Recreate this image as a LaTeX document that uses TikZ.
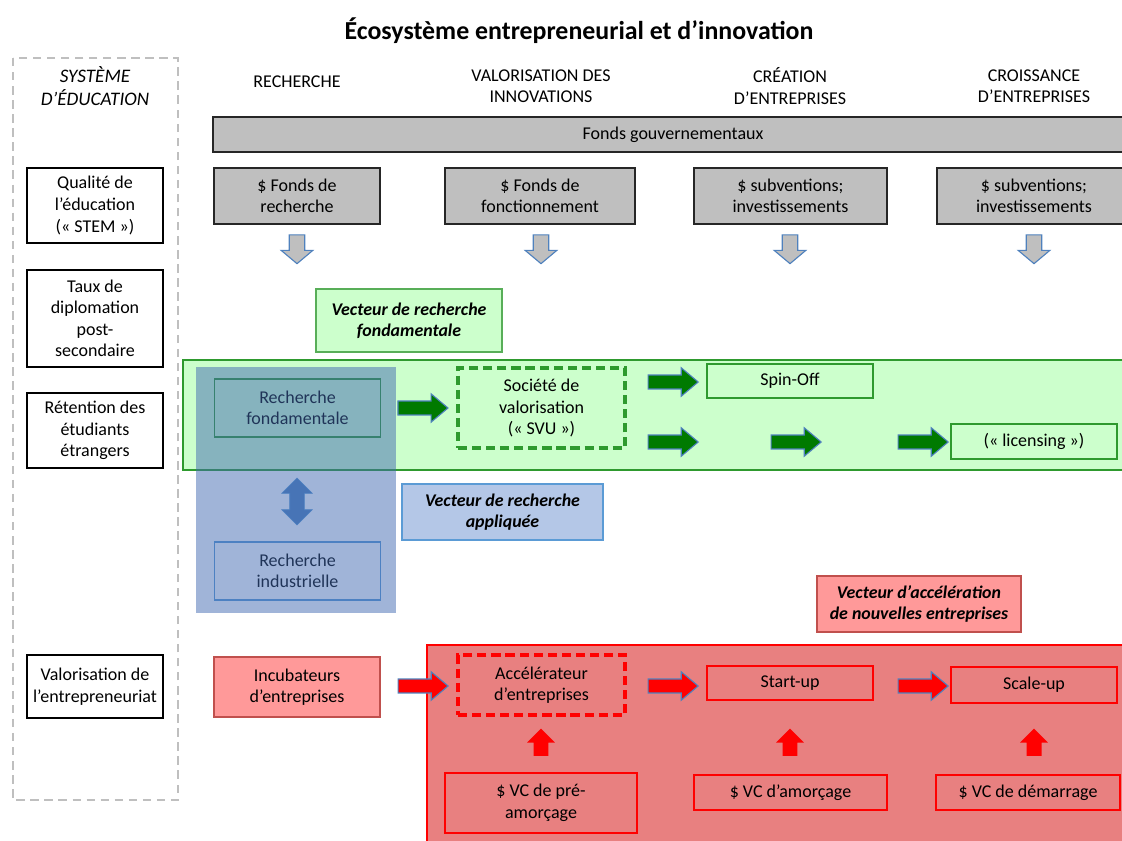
\documentclass[tikz,border=0pt]{standalone}
\usepackage{fontspec}
\setmainfont{Carlito}
\usepackage{tikz}
\usetikzlibrary{shapes.arrows}
\usetikzlibrary{calc}

\definecolor{fondgris}{HTML}{BFBFBF}
\definecolor{contourbleu}{HTML}{4F81BD}
\definecolor{vertclair}{HTML}{CCFFCC}
\definecolor{vertbord}{HTML}{2E9A2E}
\definecolor{vertfleche}{HTML}{007A00}
\definecolor{bleuvoile}{HTML}{4169B1}
\definecolor{bleuclair}{HTML}{B4C7E7}
\definecolor{bleubord}{HTML}{5B9BD5}
\definecolor{rosefond}{HTML}{FF9999}
\definecolor{rougebrique}{HTML}{C0504D}
\definecolor{rougebande}{HTML}{E88080}

\newcommand{\boxfont}{\fontsize{12.8}{15.3}\selectfont}

\begin{document}
\begin{tikzpicture}[x=0.025cm,y=-0.025cm,
  edu node/.style={draw=black, line width=1.1pt, fill=white, minimum width=3.4cm, align=center, font=\boxfont, inner sep=1pt},
  fund node/.style={draw=black!85, line width=1.1pt, fill=fondgris, align=center, font=\boxfont, minimum height=1.4cm},
  green node/.style={draw=vertbord, line width=0.9pt, align=center, font=\boxfont, minimum width=4.15cm},
  red node/.style={draw=red, line width=0.9pt, align=center, font=\boxfont},
  dash box/.style={line width=2.2pt, dash pattern=on 6.5pt off 3.5pt},
  vector node/.style={line width=2pt, align=center, font=\fontsize{12.7}{15}\selectfont\bfseries\itshape, minimum height=1.4cm},
  head node/.style={align=center, font=\boxfont},
  down arrow/.style={single arrow, draw=contourbleu, fill=fondgris, line width=0.8pt, rotate=-90, minimum height=0.72cm, single arrow head extend=0.2cm, single arrow tip angle=100, inner xsep=0pt, inner ysep=0.18cm},
  green arrow/.style={single arrow, draw=contourbleu, fill=vertfleche, line width=0.8pt, minimum height=1.25cm, single arrow head extend=0.18cm, single arrow tip angle=80, inner xsep=0pt, inner ysep=0.16cm},
  red arrow/.style={green arrow, fill=red},
  up arrow/.style={single arrow, fill=red, rotate=90, minimum height=0.68cm, single arrow head extend=0.16cm, inner xsep=0pt, inner ysep=0.18cm}]
\useasboundingbox (0,0) rectangle (1122,840);

% Titre et colonnes
\node[font=\fontsize{18.4}{22}\selectfont\bfseries] (titre) at (579,31) {Écosystème entrepreneurial et d’innovation};
\draw[fondgris, line width=2pt, dash pattern=on 6pt off 4pt] (13,58) rectangle (178,800);
\node[head node, font=\fontsize{13.6}{16.5}\selectfont\itshape] (edu) at (95,86) {SYSTÈME\\D’ÉDUCATION};
\node[head node] (h1) at (297,82) {RECHERCHE};
\node[head node] (h2) at (541,86) {VALORISATION DES\\INNOVATIONS};
\node[head node] (h3) at (790,86) {CRÉATION\\D’ENTREPRISES};
\node[head node] (h4) at (1034,86) {CROISSANCE\\D’ENTREPRISES};

% Systeme d'education
\node[edu node, minimum height=1.875cm] (e1) at (95,205.5) {Qualité de\\l’éducation\\(« STEM »)};
\node[edu node, minimum height=2.425cm] (e2) at (95,318.5) {Taux de\\diplomation\\post-\\secondaire};
\node[edu node, minimum height=1.875cm] (e3) at (95,430.5) {Rétention des\\étudiants\\étrangers};
\node[edu node, minimum height=1.575cm] (e4) at (95,686.5) {Valorisation de\\l’entrepreneuriat};

% Fonds
\node[fund node, minimum width=23cm, minimum height=0.875cm] (fg) at (673,134.5) {Fonds gouvernementaux};
\node[fund node, minimum width=4.15cm] (f1) at (297,196) {\$ Fonds de\\recherche};
\node[fund node, minimum width=4.75cm] (f2) at (540,196) {\$ Fonds de\\fonctionnement};
\node[fund node, minimum width=4.825cm] (f3) at (790.5,196) {\$ subventions;\\investissements};
\node[fund node, minimum width=4.85cm] (f4) at (1034,196) {\$ subventions;\\investissements};
\foreach \x in {297,541,790,1034}
  \node[down arrow] at (\x,246) {};

% Vecteur de recherche fondamentale
\node[vector node, draw=vertbord!80, fill=vertclair, minimum width=4.65cm, minimum height=1.575cm] (vf) at (409,320.5) {Vecteur de recherche\\fondamentale};
\draw[vertbord, fill=vertclair, line width=1pt] (183,360) rectangle (1135,470);
\node[green node, minimum height=1.45cm] (rf) at (297.5,408) {Recherche\\fondamentale};
\node[green node, dash box, minimum width=4.175cm, minimum height=2cm] (svu) at (541.5,408) {Société de\\valorisation\\(« SVU »)};
\node[green node, minimum height=0.85cm] (spin) at (790,381) {Spin-Off};
\node[green node, minimum height=0.875cm] (lic) at (1034,441.5) {(« licensing »)};
\node[green arrow] at ($(rf.east)!0.5!(svu.west)$) {};
\node[green arrow] at (669,382) {};
\node[green arrow] at (669,442) {};
\node[green arrow] at (792,442) {};
\node[green arrow] at (919,442) {};

% Vecteur de recherche appliquee
\node[green node, draw=bleubord, minimum height=1.45cm] (ri) at (297.5,571) {Recherche\\industrielle};
\node[double arrow, fill=contourbleu, draw=bleubord, rotate=90, minimum height=1.175cm, double arrow head extend=0.2cm, inner xsep=0pt, inner ysep=0.175cm] (da) at (297,501.5) {};
\fill[bleuvoile, fill opacity=0.5] (196,367) rectangle (396,613);
\node[vector node, draw=bleubord, fill=bleuclair, minimum width=5.025cm] (va) at (502.5,512) {Vecteur de recherche\\appliquée};

% Vecteur d'acceleration
\node[vector node, draw=rougebrique, fill=rosefond, minimum width=5.1cm] (vn) at (919,604) {Vecteur d’accélération\\de nouvelles entreprises};
\draw[red, fill=rougebande, line width=1pt] (427,645) rectangle (1135,845);
\node[red node, draw=rougebrique, fill=rosefond, line width=2pt, minimum width=4.15cm, minimum height=1.5cm] (inc) at (297,687) {Incubateurs\\d’entreprises};
\node[red node, dash box, minimum width=4.175cm, minimum height=1.5cm] (acc) at (541.5,685) {Accélérateur\\d’entreprises};
\node[red node, minimum width=4.15cm, minimum height=0.85cm] (start) at (790,683) {Start-up};
\node[red node, minimum width=4.15cm, minimum height=0.9cm] (scale) at (1034,685) {Scale-up};
\node[red node, minimum width=4.8cm, minimum height=1.5cm] (vc1) at (541,803) {\$ VC de pré-\\amorçage};
\node[red node, minimum width=4.825cm, minimum height=0.875cm] (vc2) at (790.5,792.5) {\$ VC d’amorçage};
\node[red node, minimum width=4.6cm, minimum height=0.875cm] (vc3) at (1028,792.5) {\$ VC de démarrage};
\node[red arrow] at ($(inc.east)!0.5!(acc.west)$) {};
\node[red arrow] at (669,686) {};
\node[red arrow] at (919,686) {};
\foreach \x in {541,790,1034}
  \node[up arrow] at (\x,746) {};

\end{tikzpicture}
\end{document}
